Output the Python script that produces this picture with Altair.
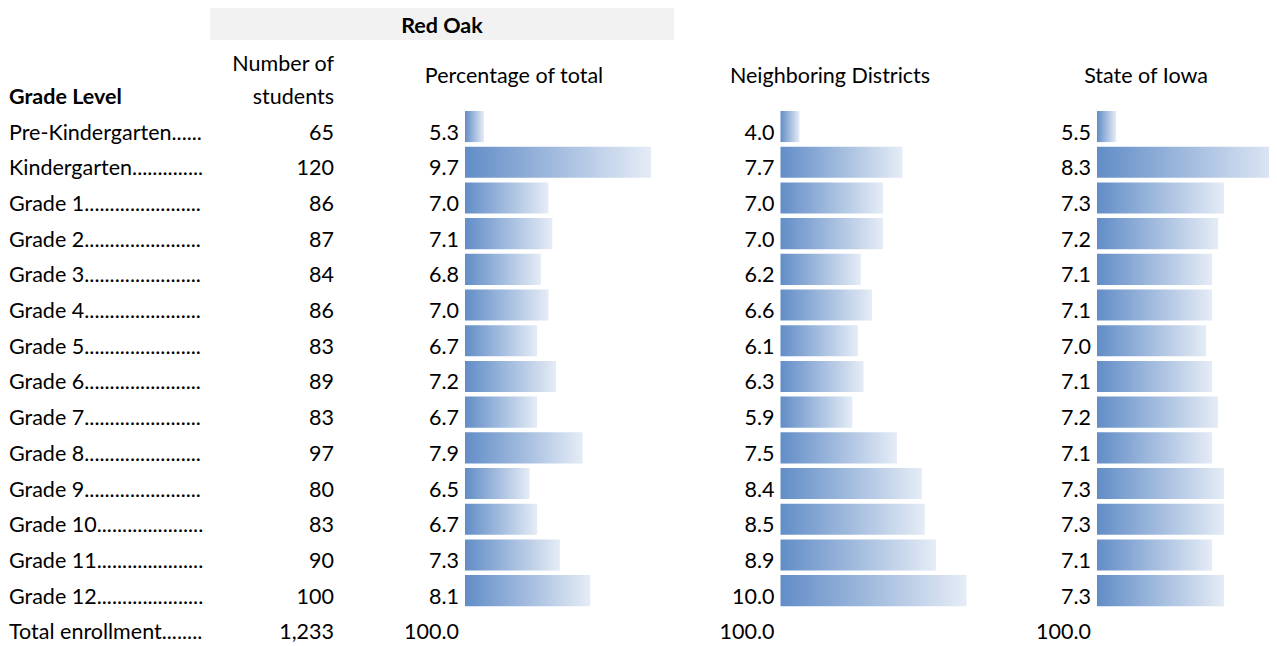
import altair as alt
import pandas as pd

GRADES = [
    "Pre-Kindergarten......",
    "Kindergarten..............",
    "Grade 1.......................",
    "Grade 2.......................",
    "Grade 3.......................",
    "Grade 4.......................",
    "Grade 5.......................",
    "Grade 6.......................",
    "Grade 7.......................",
    "Grade 8.......................",
    "Grade 9.......................",
    "Grade 10.....................",
    "Grade 11.....................",
    "Grade 12.....................",
]
STUDENTS = [65, 120, 86, 87, 84, 86, 83, 89, 83, 97, 80, 83, 90, 100]
PCT = [5.3, 9.7, 7.0, 7.1, 6.8, 7.0, 6.7, 7.2, 6.7, 7.9, 6.5, 6.7, 7.3, 8.1]
NEIGH = [4.0, 7.7, 7.0, 7.0, 6.2, 6.6, 6.1, 6.3, 5.9, 7.5, 8.4, 8.5, 8.9, 10.0]
STATE = [5.5, 8.3, 7.3, 7.2, 7.1, 7.1, 7.0, 7.1, 7.2, 7.1, 7.3, 7.3, 7.1, 7.3]
TOTAL_LABEL = "Total enrollment........"
TOTAL_STUDENTS = 1233
TOTAL_PCT = 100.0

DISTRICT = "Red Oak"
COL_HEADERS = ["Percentage of total", "Neighboring Districts", "State of Iowa"]

FONT = "Lato"
FS = 21.5

bars_df = pd.DataFrame({"grade": GRADES, "students": STUDENTS, "pct": PCT,
                        "neigh": NEIGH, "state": STATE})
text_df = pd.DataFrame({
    "grade": GRADES + [TOTAL_LABEL],
    "students": STUDENTS + [TOTAL_STUDENTS],
    "pct": PCT + [TOTAL_PCT],
    "neigh": NEIGH + [TOTAL_PCT],
    "state": STATE + [TOTAL_PCT],
})
ROWS = GRADES + [TOTAL_LABEL]

yenc = alt.Y("grade:N", sort=ROWS, axis=None,
             scale=alt.Scale(domain=ROWS, range=[100.7, 636.2],
                             paddingInner=0.13, paddingOuter=0.065))

grad = alt.Gradient(
    gradient="linear",
    stops=[alt.GradientStop(color="#628dc7", offset=0),
           alt.GradientStop(color="#e5ecf6", offset=1)],
    x1=0, x2=1, y1=0, y2=0,
)

COLS = [
    ("pct", [4.80, 9.7], [457, 643]),
    ("neigh", [3.317, 10.0], [772.5, 958.5]),
    ("state", [5.18, 8.3], [1089, 1276]),
]

layers = []

# header band
band_df = pd.DataFrame({"t": [DISTRICT]})
layers.append(alt.Chart(band_df).mark_rect(color="#f2f2f2").encode(
    x=alt.value(202), x2=alt.value(666), y=alt.value(0), y2=alt.value(32)))
layers.append(alt.Chart(band_df).mark_text(
    font=FONT, fontSize=FS, fontWeight="bold", align="center", baseline="alphabetic",
    color="black").encode(text="t:N", x=alt.value(434), y=alt.value(24.5)))

def header(txt, x, y, align, bold=False):
    return alt.Chart(pd.DataFrame({"t": [txt]})).mark_text(
        font=FONT, fontSize=FS, fontWeight="bold" if bold else "normal",
        align=align, baseline="alphabetic", color="black"
    ).encode(text="t:N", x=alt.value(x), y=alt.value(y))

layers.append(header("Grade Level", 1, 95.5, "left", bold=True))
layers.append(header("Number of", 326, 62.5, "right"))
layers.append(header("students", 326, 95.5, "right"))
layers.append(header(COL_HEADERS[0], 506, 75, "center"))
layers.append(header(COL_HEADERS[1], 822, 75, "center"))
layers.append(header(COL_HEADERS[2], 1138, 75, "center"))

txt_props = dict(font=FONT, fontSize=FS, baseline="alphabetic", dy=13, color="black")

layers.append(alt.Chart(text_df).mark_text(align="left", **txt_props).encode(
    y=yenc, x=alt.value(1), text="grade:N"))
layers.append(alt.Chart(text_df).mark_text(align="right", **txt_props).encode(
    y=yenc, x=alt.value(326), text=alt.Text("students:Q", format=",d")))

for field, dom, rng in COLS:
    layers.append(alt.Chart(bars_df).mark_bar(color=grad).encode(
        y=yenc,
        x=alt.X(f"{field}:Q", axis=None, scale=alt.Scale(domain=dom, range=rng, zero=False)),
        x2=alt.datum(dom[0]),
    ))
    layers.append(alt.Chart(text_df).mark_text(align="right", **txt_props).encode(
        y=yenc, x=alt.value(rng[0] - 6), text=alt.Text(f"{field}:Q", format=".1f")))

chart = alt.layer(*layers).resolve_scale(x="independent").properties(
    width=1261, height=638, padding=0,
    autosize=alt.AutoSizeParams(type="none"),
).configure_view(stroke=None)

chart.save("out.html", embed_options={"renderer": "svg", "actions": False})
